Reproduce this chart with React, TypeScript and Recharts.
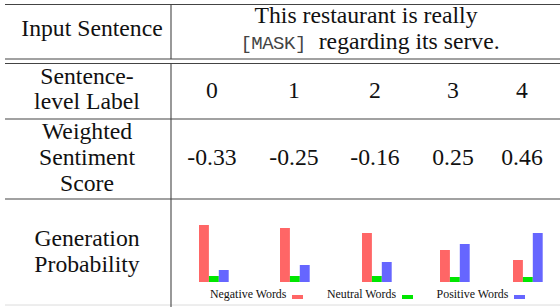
import React from 'react';
import { BarChart, Bar, XAxis, YAxis } from 'recharts';

const rowHeaders: string[][] = [
  ['Input Sentence'],
  ['Sentence-', 'level Label'],
  ['Weighted', 'Sentiment', 'Score'],
  ['Generation', 'Probability'],
];
const sentenceLine1 = 'This restaurant is really';
const maskToken = '[MASK]';
const sentenceLine2Rest = ' regarding its serve.';
const labels = ['0', '1', '2', '3', '4'];
const scores = ['-0.33', '-0.25', '-0.16', '0.25', '0.46'];
const negative = [0.57, 0.54, 0.49, 0.32, 0.22];
const neutral = [0.06, 0.06, 0.06, 0.05, 0.05];
const positive = [0.12, 0.17, 0.2, 0.38, 0.49];
const seriesNames = ['Negative Words', 'Neutral Words', 'Positive Words'];
const seriesKeys = ['neg', 'neu', 'pos'];
const seriesColors = ['#ff6666', '#00e600', '#6666ff'];

const W = 560;
const H = 307;
const SERIF = "'Liberation Serif', 'Times New Roman', serif";
const MONO = "'Liberation Mono', 'DejaVu Sans Mono', monospace";
const FS = 23.7;
const LINE = '#444';

const colCenters = [212, 294, 375, 453, 522];
const chartLefts = [197, 278, 360, 438, 511];
const leftCenter = 87;

const headerBaselines = [[37], [85, 110], [140, 166, 192], [247, 273]];

function Txt({ x, baseline, children }: { x: number; baseline: number; children: React.ReactNode }) {
  return (
    <div
      style={{
        position: 'absolute',
        left: x,
        top: baseline - 0.8375 * FS,
        transform: 'translateX(-50%)',
        fontFamily: SERIF,
        fontSize: FS,
        lineHeight: `${FS}px`,
        height: FS,
        whiteSpace: 'pre',
        color: '#111',
      }}
    >
      {children}
    </div>
  );
}

function MiniChart({ i }: { i: number }) {
  const data = [{ name: labels[i], neg: negative[i], neu: neutral[i], pos: positive[i] }];
  return (
    <div style={{ position: 'absolute', left: chartLefts[i], top: 222, width: 33, height: 60 }}>
      <BarChart
        width={33}
        height={60}
        data={data}
        margin={{ top: 0, right: 0, bottom: 0, left: 0 }}
        barGap={0}
        barCategoryGap={0}
      >
        <XAxis dataKey="name" hide />
        <YAxis hide domain={[0, 0.6]} />
        {seriesKeys.map((k, j) => (
          <Bar key={k} dataKey={k} fill={seriesColors[j]} barSize={11} isAnimationActive={false} />
        ))}
      </BarChart>
    </div>
  );
}

export default function App() {
  return (
    <div
      style={{
        position: 'fixed',
        left: 0,
        top: 0,
        width: W,
        height: H,
        background: '#fff',
        fontFamily: SERIF,
        overflow: 'hidden',
      }}
    >
      <svg width={W} height={H} style={{ position: 'absolute', left: 0, top: 0 }}>
        <line x1={5} x2={W} y1={4.5} y2={4.5} stroke={LINE} strokeWidth={1.2} />
        <line x1={5} x2={W} y1={59} y2={59} stroke={LINE} strokeWidth={1.1} />
        <line x1={5} x2={W} y1={63.5} y2={63.5} stroke={LINE} strokeWidth={1.1} />
        <line x1={5} x2={W} y1={119} y2={119} stroke={LINE} strokeWidth={1.1} />
        <line x1={5} x2={W} y1={199} y2={199} stroke={LINE} strokeWidth={1.1} />
        <line x1={5} x2={W} y1={305} y2={305} stroke="#dcdcdc" strokeWidth={1} />
        <line x1={171} x2={171} y1={4} y2={59} stroke={LINE} strokeWidth={1.1} />
        <line x1={171} x2={171} y1={63.5} y2={H} stroke={LINE} strokeWidth={1.1} />
      </svg>

      {rowHeaders.map((lines, r) =>
        lines.map((t, k) => (
          <Txt key={`${r}-${k}`} x={r === 0 ? 92 : leftCenter} baseline={headerBaselines[r][k]}>
            {t}
          </Txt>
        ))
      )}

      <Txt x={366} baseline={24}>
        {sentenceLine1}
      </Txt>
      <Txt x={370} baseline={49.5}>
        <span
          style={{
            fontFamily: MONO,
            fontSize: 19,
            letterSpacing: -0.5,
            color: '#444',
            marginRight: 7,
          }}
        >
          {maskToken}
        </span>
        {sentenceLine2Rest}
      </Txt>

      {labels.map((t, i) => (
        <Txt key={`l${i}`} x={colCenters[i]} baseline={99}>
          {t}
        </Txt>
      ))}
      {scores.map((t, i) => (
        <Txt key={`s${i}`} x={colCenters[i]} baseline={166}>
          {t}
        </Txt>
      ))}

      {labels.map((_, i) => (
        <MiniChart key={i} i={i} />
      ))}

      <div
        style={{
          position: 'absolute',
          left: 210,
          top: 287,
          height: 14,
          display: 'flex',
          alignItems: 'center',
          gap: 23.5,
          fontFamily: SERIF,
          fontSize: 11.9,
          lineHeight: '14px',
          color: '#111',
          whiteSpace: 'nowrap',
        }}
      >
        {seriesNames.map((n, j) => (
          <div key={n} style={{ display: 'flex', alignItems: 'center' }}>
            <span>{n}</span>
            <span
              style={{
                display: 'inline-block',
                width: 11,
                height: 4,
                marginLeft: 6,
                background: seriesColors[j],
                position: 'relative',
                top: 3,
              }}
            />
          </div>
        ))}
      </div>
    </div>
  );
}
